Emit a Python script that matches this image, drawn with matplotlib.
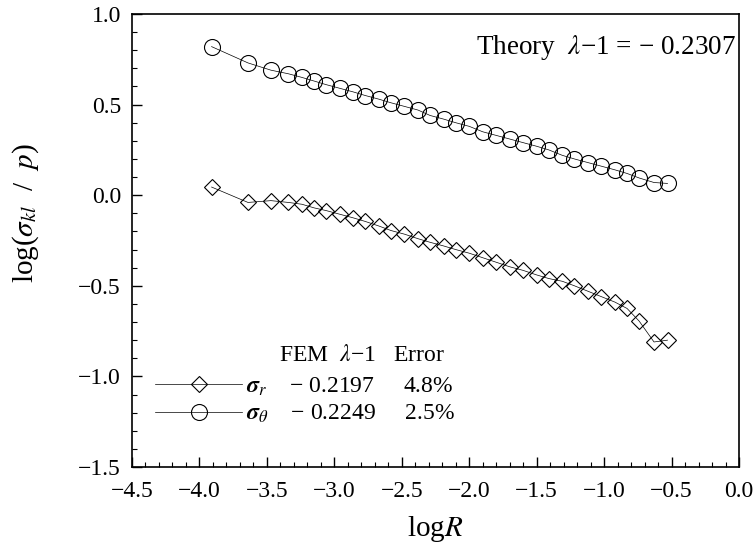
import matplotlib.pyplot as plt
from matplotlib.ticker import MultipleLocator, FuncFormatter

plt.rcParams['font.family'] = ['Liberation Serif', 'DejaVu Serif']
plt.rcParams['mathtext.fontset'] = 'stix'

# values
log_r = [-3.91, -3.64, -3.47, -3.34, -3.24, -3.15, -3.06, -2.96, -2.86, -2.77,
         -2.67, -2.58, -2.48, -2.38, -2.29, -2.19, -2.10, -2.00, -1.90, -1.80,
         -1.70, -1.60, -1.50, -1.41, -1.31, -1.22, -1.12, -1.02, -0.92, -0.83,
         -0.74, -0.63, -0.53]
sigma_theta = [0.82, 0.73, 0.69, 0.67, 0.65, 0.63, 0.61, 0.59, 0.57, 0.55,
               0.53, 0.51, 0.49, 0.47, 0.44, 0.42, 0.40, 0.38, 0.35, 0.33,
               0.31, 0.29, 0.27, 0.25, 0.22, 0.20, 0.18, 0.16, 0.14, 0.12,
               0.095, 0.07, 0.065]
sigma_r = [0.045, -0.04, -0.03, -0.04, -0.05, -0.07, -0.085, -0.105, -0.125, -0.145,
           -0.17, -0.195, -0.215, -0.24, -0.26, -0.28, -0.30, -0.32, -0.345, -0.37,
           -0.395, -0.415, -0.44, -0.46, -0.475, -0.50, -0.53, -0.56, -0.59, -0.625,
           -0.695, -0.81, -0.80]

fem = ["\u2212 0.2197", "\u2212 0.2249"]
err = ["4.8%", "2.5%"]
theory = "\u2212 0.2307"

fig = plt.figure(figsize=(7.56, 5.53), dpi=100)
ax = fig.add_axes([132 / 756, 1 - 467 / 553, 607 / 756, 453 / 553])

ax.plot(log_r, sigma_r, '-', color='k', lw=0.5, marker='D', ms=8,
        mfc='none', mec='k', mew=0.8,
        label=r"$\mathbfit{\sigma}_r$    " + fem[0] + "     " + err[0])
ax.plot(log_r, sigma_theta, '-', color='k', lw=0.5, marker='o', ms=11.5,
        mfc='none', mec='k', mew=0.8,
        label=r"$\mathbfit{\sigma}_\theta$    " + fem[1] + "     " + err[1])

ax.set_xlim(-4.5, 0.0)
ax.set_ylim(-1.5, 1.0)
ax.xaxis.set_major_locator(MultipleLocator(0.5))
ax.xaxis.set_minor_locator(MultipleLocator(0.1))
ax.yaxis.set_major_locator(MultipleLocator(0.5))
ax.yaxis.set_minor_locator(MultipleLocator(0.1))
fmt = FuncFormatter(lambda v, p: f"{v:.1f}".replace("-", "\u2212"))
ax.xaxis.set_major_formatter(fmt)
ax.yaxis.set_major_formatter(fmt)
ax.tick_params(which='both', direction='in', top=False, right=False, labelsize=17)
ax.tick_params(axis='x', which='major', pad=10)
ax.tick_params(axis='y', which='major', pad=8)
ax.tick_params(which='major', length=7, width=1)
ax.tick_params(which='minor', length=3.5, width=0.8)
for s in ax.spines.values():
    s.set_linewidth(1.2)

ax.set_xlabel(r"log$R$", fontsize=21, labelpad=9)
ax.set_ylabel(r"log($\sigma_{kl}$  /  $p$)", fontsize=21)
ax.yaxis.set_label_coords(-0.15, 0.56)

ax.text(0.995, 0.925, r"Theory  $\lambda$" + "\u22121 = " + theory,
        transform=ax.transAxes, ha='right', va='center', fontsize=19.5)

ax.text(0.242, 0.247, r"FEM  $\lambda$" + "\u22121   Error",
        transform=ax.transAxes, ha='left', va='center', fontsize=17)

ax.legend(loc='lower left', bbox_to_anchor=(0.0, 0.042), frameon=False,
          fontsize=17, handlelength=3.7, handletextpad=0.17, labelspacing=0.2,
          borderpad=0.4, borderaxespad=0.57)

fig.savefig("out.png", dpi=100)
